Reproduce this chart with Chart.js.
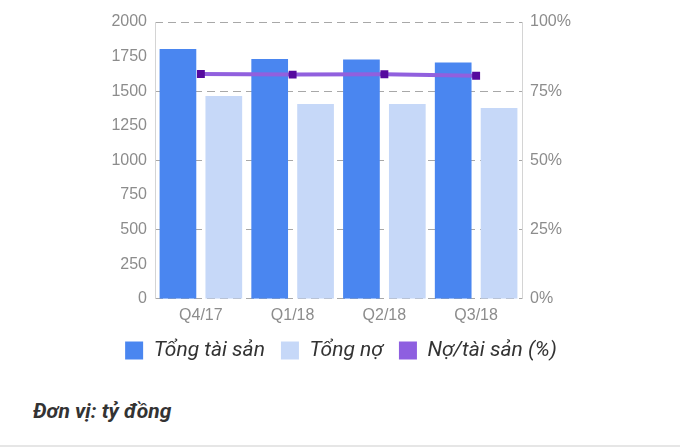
<!DOCTYPE html>
<html>
<head>
<meta charset="utf-8">
<script src="https://cdn.jsdelivr.net/npm/chart.js@4/dist/chart.umd.min.js"></script>
<style>
  html, body { margin: 0; padding: 0; background: #fff; }
  body { width: 680px; height: 447px; position: relative; overflow: hidden; font-family: Roboto, sans-serif; }
  #wrap { position: absolute; left: 0; top: 0; width: 680px; height: 375px; }
  #unit { position: absolute; left: 33px; top: 399px; font: italic bold 21px Roboto, sans-serif; color: #333; }
  #rule { position: absolute; left: 0; right: 0; top: 445px; height: 2px; background: #e6e6e6; }
</style>
</head>
<body>
<div id="wrap"><canvas id="chart"></canvas></div>
<div id="unit">Đơn vị: tỷ đồng</div>
<div id="rule"></div>
<script>
const quarters = ['Q4/17', 'Q1/18', 'Q2/18', 'Q3/18'];
const totalAssets = [1805, 1733, 1729, 1708];
const totalDebt = [1466, 1408, 1408, 1379];
const debtRatio = [81.2, 81.0, 81.1, 80.6];
const leftTicks = [0, 250, 500, 750, 1000, 1250, 1500, 1750, 2000];
const rightTicks = [0, 25, 50, 75, 100];

const tickFont = { family: '"Liberation Sans", Arial, sans-serif', size: 16 };
const tickColor = '#8c8c8c';

new Chart(document.getElementById('chart'), {
  data: {
    labels: quarters,
    datasets: [
      {
        type: 'bar', label: 'Tổng tài sản', data: totalAssets, yAxisID: 'y',
        backgroundColor: '#4a86f0', borderWidth: 0,
        barPercentage: 0.8, categoryPercentage: 1.0
      },
      {
        type: 'bar', label: 'Tổng nợ', data: totalDebt, yAxisID: 'y',
        backgroundColor: '#c6d8f8', borderWidth: 0,
        barPercentage: 0.8, categoryPercentage: 1.0
      },
      {
        type: 'line', label: 'Nợ/tài sản (%)', data: debtRatio, yAxisID: 'y2', order: -1,
        borderColor: '#9160de', backgroundColor: '#8e5fe0', borderWidth: 4,
        pointStyle: 'rect', pointRadius: 5.6, pointBackgroundColor: '#56099e',
        pointBorderColor: '#56099e', pointBorderWidth: 0, fill: false, tension: 0
      }
    ]
  },
  options: {
    responsive: true,
    maintainAspectRatio: false,
    animation: false,
    layout: { padding: { left: 100, right: 98, top: 22, bottom: 4 } },
    plugins: {
      tooltip: { enabled: false },
      legend: {
        position: 'bottom',
        labels: {
          boxWidth: 18, boxHeight: 18, padding: 16,
          color: '#333',
          font: { family: 'Roboto, sans-serif', size: 21, style: 'italic' },
          sort: (a, b) => a.datasetIndex - b.datasetIndex,
          generateLabels: (chart) => Chart.defaults.plugins.legend.labels.generateLabels(chart)
            .map(item => Object.assign(item, { lineWidth: 0, strokeStyle: item.fillStyle }))
        }
      }
    },
    scales: {
      x: {
        grid: { display: false },
        border: { display: false },
        ticks: { color: tickColor, font: tickFont, padding: -1 }
      },
      y: {
        position: 'left',
        min: 0, max: 2000,
        afterBuildTicks: axis => { axis.ticks = leftTicks.map(v => ({ value: v })); },
        afterFit: axis => { axis.width = 55; },
        grid: { display: false },
        border: { display: true, color: '#d4d4d4', width: 1 },
        ticks: { color: tickColor, font: tickFont, padding: 0, callback: v => String(v) }
      },
      y2: {
        position: 'right',
        min: 0, max: 100,
        afterBuildTicks: axis => { axis.ticks = rightTicks.map(v => ({ value: v })); },
        afterFit: axis => { axis.width = 60; },
        grid: { color: '#a8a8a8', drawTicks: false },
        border: { display: true, color: '#d4d4d4', width: 1, dash: [8, 5] },
        ticks: { color: tickColor, font: tickFont, padding: 8, callback: v => v + '%' }
      }
    }
  }
});
</script>
</body>
</html>
